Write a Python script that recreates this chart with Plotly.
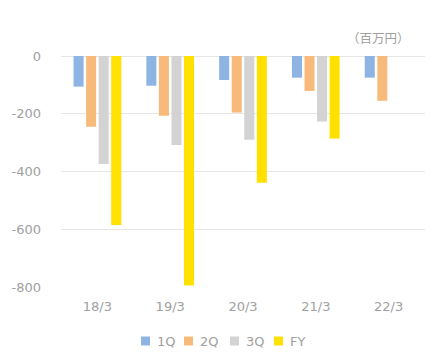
import plotly.graph_objects as go

categories = ["18/3", "19/3", "20/3", "21/3", "22/3"]
q1 = [-106, -103, -83, -75, -75]
q2 = [-245, -207, -196, -121, -155]
q3 = [-374, -308, -290, -227, None]
fy = [-585, -795, -439, -286, None]
series_names = ["1Q", "2Q", "3Q", "FY"]
colors = ["#8EB4E3", "#F8BA7A", "#D3D3D3", "#FFE100"]
tick_vals = [0, -200, -400, -600, -800]
tick_text = ["0", "-200", "-400", "-600", "-800"]
unit_label = "（百万円）"

font_family = "DejaVu Sans, sans-serif"
text_color = "#A0A0A0"

OFF = 8  # page body margin
W, H = 436 - OFF, 360 - OFF
ml, mr, mt, mb = 61 - OFF, 11, 56 - OFF, 73
pw, ph = W - ml - mr, H - mt - mb

fig = go.Figure()
for name, vals, col in zip(series_names, [q1, q2, q3, fy], colors):
    fig.add_trace(go.Bar(x=categories, y=vals, name=name, showlegend=False,
                         marker=dict(color=col, line=dict(width=0))))

# custom legend (compact, like the reference)
legend_x = [141, 184, 230, 274]  # window-pixel left edge of each swatch
legend_yc = 341


def px_x(x):
    return (x - OFF - ml) / pw


def px_y(y):
    return (H - mb - (y - OFF)) / ph


shapes = []
annotations = []
for name, col, lx in zip(series_names, colors, legend_x):
    shapes.append(dict(type="rect", xref="paper", yref="paper", x0=px_x(lx), x1=px_x(lx + 9),
                       y0=px_y(legend_yc + 4.5), y1=px_y(legend_yc - 4.5),
                       fillcolor=col, line=dict(width=0)))
    annotations.append(dict(text=name, xref="paper", yref="paper", x=px_x(lx + 14),
                            y=px_y(legend_yc), xanchor="left", yanchor="middle",
                            showarrow=False, font=dict(size=13, color=text_color, family=font_family)))

annotations.append(dict(text=unit_label, xref="paper", yref="paper", x=px_x(412),
                        y=px_y(37), xanchor="right", yanchor="middle", showarrow=False,
                        font=dict(size=12.5, color=text_color, family="Noto Sans CJK JP, sans-serif")))

fig.update_layout(
    width=W, height=H,
    margin=dict(l=ml, r=mr, t=mt, b=mb, autoexpand=False),
    paper_bgcolor="white", plot_bgcolor="white",
    barmode="group", bargap=0.31, bargroupgap=0.2,
    font=dict(family=font_family, size=13, color=text_color),
    showlegend=False,
    xaxis=dict(showgrid=False, showline=False, ticks="", automargin=False, ticklabelstandoff=10,
               tickfont=dict(size=13, color=text_color)),
    yaxis=dict(range=[-800, 0], tickvals=tick_vals, ticktext=tick_text, showgrid=True,
               gridcolor="#E6E6E6", gridwidth=1,
               zeroline=True, zerolinecolor="#E6E6E6", zerolinewidth=1, showline=False, ticks="",
               automargin=False, ticklabelstandoff=19,
               tickfont=dict(size=13, color=text_color)),
    shapes=shapes,
    annotations=annotations,
)

fig.write_html("out.html")
